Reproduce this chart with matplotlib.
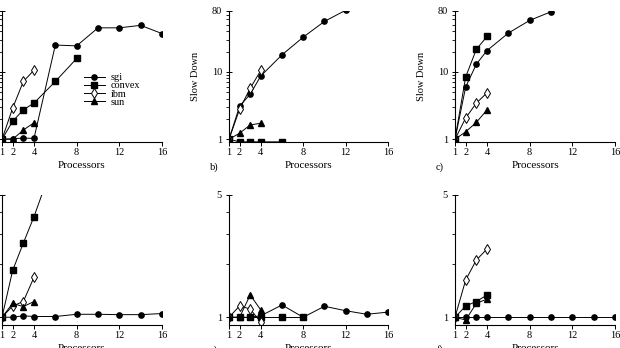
import matplotlib
matplotlib.use("Agg")
import matplotlib.pyplot as plt
from matplotlib.ticker import FixedLocator, NullFormatter, FixedFormatter

plt.rcParams['font.family'] = ['Liberation Serif', 'DejaVu Serif']

# ---- data ----
x_sgi = [1, 2, 3, 4, 6, 8, 10, 12, 14, 16]
x_small = [1, 2, 3, 4]
x_convex = [1, 2, 3, 4, 6, 8]

# panel a
a_sgi = [1, 1.02, 1.04, 1.03, 25, 24.3, 45, 45, 49, 37]
a_convex = [1, 1.85, 2.73, 3.45, 7.2, 15.8]
a_ibm = [1, 2.9, 7.2, 10.6]
a_sun = [1, 1.0, 1.37, 1.76]

# panel b
b_sgi_x = [1, 2, 3, 4, 6, 8, 10, 12]
b_sgi = [1, 3.1, 4.66, 8.7, 17.9, 32.7, 56, 82]
b_convex = [1, 0.915, 0.915, 0.915, 0.915, 0.72]
b_ibm = [1, 2.8, 5.7, 10.5]
b_sun = [1, 1.23, 1.63, 1.73]

# panel c
c_sgi_x = [1, 2, 3, 4, 6, 8, 10]
c_sgi = [1, 5.96, 13, 20.7, 37.6, 58, 78]
c_convex_x = [1, 2, 3, 4]
c_convex = [1, 8.4, 21.6, 33.5]
c_ibm = [1, 2.07, 3.43, 4.9]
c_sun = [1, 1.29, 1.78, 2.72]

# panel d
d_sgi = [1, 1.0, 1.02, 1.01, 1.01, 1.04, 1.04, 1.035, 1.035, 1.05]
d_convex = [1, 1.85, 2.65, 3.75, 8.2, 16]
d_ibm = [1, 1.16, 1.23, 1.69]
d_sun = [1, 1.2, 1.15, 1.23]

# panel e
e_sgi = [1, 1.0, 1.0, 1.02, 1.175, 1.0, 1.155, 1.09, 1.04, 1.07]
e_convex = [1, 1, 1, 1, 1, 1]
e_ibm = [1, 1.16, 1.115, 0.936]
e_sun = [1, 1.0, 1.34, 1.10]

# panel f
f_sgi = [1, 1, 1, 1, 1, 1, 1, 1, 1, 1]
f_convex = [1, 1.16, 1.23, 1.34]
f_ibm = [1, 1.63, 2.12, 2.45]
f_sun = [1, 0.965, 1.2, 1.27]

x_ticks = [1, 2, 4, 8, 12, 16]
top_major = [1, 10, 80]
top_minor = [2, 3, 4, 5, 6, 7, 8, 9, 20, 30, 40, 50, 60, 70]
bot_major = [1, 5]
bot_minor = [2, 3, 4]
series_labels = ['sgi', 'convex', 'ibm', 'sun']
panel_letters = ['a)', 'b)', 'c)', 'd)', 'e)', 'f)']

W, H = 620, 348
fig = plt.figure(figsize=(W / 100, H / 100), dpi=100)

lefts = [2, 229, 455]
widths = [160, 159, 160]
top_row = (11.0, 141.7)
bot_row = (194.7, 324.7)

FS = 7.5
style = dict(color='black', lw=0.7)
mk = {
    'sgi': dict(marker='o', ms=3.8, mfc='black', mec='black'),
    'convex': dict(marker='s', ms=4.0, mfc='black', mec='black'),
    'ibm': dict(marker='d', ms=4.9, mfc='white', mec='black', mew=0.7),
    'sun': dict(marker='^', ms=4.3, mfc='black', mec='black'),
}


def make_ax(col, row):
    t, b = (top_row if row == 0 else bot_row)
    ax = fig.add_axes([lefts[col] / W, (H - b) / H, widths[col] / W, (b - t) / H])
    ax.set_yscale('log')
    ax.set_xlim(1, 16)
    for s in ['top', 'right']:
        ax.spines[s].set_visible(False)
    for s in ['left', 'bottom']:
        ax.spines[s].set_linewidth(0.8)
    ax.set_xticks(x_ticks)
    ax.set_xticklabels([str(v) for v in x_ticks])
    visible_y = col > 0
    if row == 0:
        ax.set_ylim(0.92, 80)
        ax.yaxis.set_major_locator(FixedLocator(top_major))
        ax.yaxis.set_major_formatter(FixedFormatter([str(v) for v in top_major]))
        ax.yaxis.set_minor_locator(FixedLocator(top_minor))
    else:
        ax.set_ylim(0.907, 5)
        ax.yaxis.set_major_locator(FixedLocator(bot_major))
        ax.yaxis.set_major_formatter(FixedFormatter([str(v) for v in bot_major]))
        ax.yaxis.set_minor_locator(FixedLocator(bot_minor))
    ax.yaxis.set_minor_formatter(NullFormatter())
    ax.tick_params(axis='x', which='major', direction='out', length=3.2, width=0.7,
                   pad=1.5, labelsize=FS)
    ax.tick_params(axis='x', which='minor', bottom=False)
    ax.tick_params(axis='y', which='major', direction='inout', length=4, width=0.7,
                   pad=3.0, labelsize=FS, labelleft=visible_y)
    ax.tick_params(axis='y', which='minor', direction='out', length=2, width=0.6)
    ax.set_xlabel('Processors', fontsize=8, va='top')
    ax.xaxis.set_label_coords(0.5, -19.5 / (b - t))
    if row == 0 and visible_y:
        ax.set_ylabel('Slow Down', fontsize=FS)
        ax.yaxis.set_label_coords(-29 / widths[col], 0.5)
    return ax


def draw(ax, data):
    hs = []
    for name, (xs, ys) in zip(series_labels, data):
        h, = ax.plot(xs, ys, label=name, **style, **mk[name])
        hs.append(h)
    return hs


panels = [
    [(x_sgi, a_sgi), (x_convex, a_convex), (x_small, a_ibm), (x_small, a_sun)],
    [(b_sgi_x, b_sgi), (x_convex, b_convex), (x_small, b_ibm), (x_small, b_sun)],
    [(c_sgi_x, c_sgi), (c_convex_x, c_convex), (x_small, c_ibm), (x_small, c_sun)],
    [(x_sgi, d_sgi), (x_convex, d_convex), (x_small, d_ibm), (x_small, d_sun)],
    [(x_sgi, e_sgi), (x_convex, e_convex), (x_small, e_ibm), (x_small, e_sun)],
    [(x_sgi, f_sgi), (x_small, f_convex), (x_small, f_ibm), (x_small, f_sun)],
]

for i, data in enumerate(panels):
    row, col = divmod(i, 3)
    ax = make_ax(col, row)
    hs = draw(ax, data)
    if i == 0:
        ax.legend(handles=hs, loc='upper left', bbox_to_anchor=(84 / W, (H - 73) / H),
                  bbox_transform=fig.transFigure, frameon=False, fontsize=7.4,
                  handlelength=2.0, handletextpad=0.6, labelspacing=-0.1,
                  borderpad=0, borderaxespad=0)
    t, b = (top_row if row == 0 else bot_row)
    if col > 0:
        fig.text((lefts[col] - 15) / W, (H - (b + 25.5)) / H, panel_letters[i],
                 fontsize=FS, ha='center', va='center')

fig.savefig('out.png', dpi=100)
